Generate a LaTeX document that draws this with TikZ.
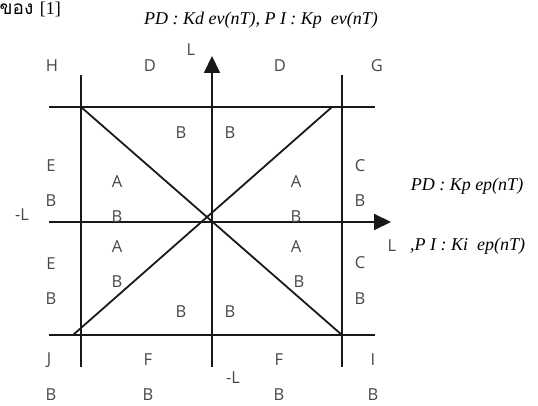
\documentclass[tikz,border=0pt]{standalone}
\usepackage{fontspec}
\setmainfont{Liberation Serif}
\newfontfamily\labfont{Open Sans}
\newfontfamily\thaifont[Script=Thai]{Loma}
\usetikzlibrary{arrows.meta}
\tikzset{
  lab/.style={font=\labfont\fontsize{16.5}{18}\selectfont, text=black!72, inner sep=0pt},
  formula/.style={font=\itshape\fontsize{18}{20}\selectfont, inner sep=0pt},
  frameline/.style={line width=2.7pt, black!90},
  thinframe/.style={line width=1.9pt, black!90},
  axisline/.style={line width=2pt, black!90, -{Triangle[length=17pt,width=16pt]}},
  diag/.style={line width=1.8pt, black!90},
}
\begin{document}
\begin{tikzpicture}[x=1pt,y=-1pt]
\useasboundingbox (0,0) rectangle (538,406);
\clip (0,0) rectangle (538,406);
% coordinates
\coordinate (vtop) at (212,56);
\coordinate (vbot) at (212,367);
\coordinate (hleft) at (49,222);
\coordinate (hright) at (391,222);
\coordinate (tl) at (49,107);
\coordinate (tr) at (375,107);
\coordinate (bl) at (49,335);
\coordinate (br) at (375,335);
\coordinate (lt) at (81,75);
\coordinate (lb) at (81,367);
\coordinate (rt) at (342,75);
\coordinate (rb) at (342,367);
\coordinate (d1a) at (81,107);
\coordinate (d1b) at (342,335);
\coordinate (d2a) at (332,107);
\coordinate (d2b) at (73,335);
% lines
\draw[frameline] (tl) -- (tr);
\draw[thinframe] (bl) -- (br);
\draw[frameline] (lt) -- (lb);
\draw[thinframe] (rt) -- (rb);
\draw[diag] (d1a) -- (d1b);
\draw[diag] (d2a) -- (d2b);
\draw[axisline] (vbot) -- (vtop);
\draw[axisline] (hleft) -- (hright);
% Thai caption (cut at left edge)
\node[anchor=east, inner sep=0pt] (cap) at (61,9) {\thaifont\fontsize{19}{21}\selectfont ของ\ \fontsize{18}{20}\selectfont\rmfamily [1]};
% formulas
\node[formula] (ftop) at (261,20) {PD : Kd ev(nT), P I : Kp\ \ ev(nT)};
\node[formula] (fright) at (467,186) {PD : Kp ep(nT)};
\node[formula, anchor=west] (fright2) at (410,246) {,P I : Ki\ \ ep(nT)};
% labels
\node[lab] (H) at (52,66) {H};
\node[lab] (D1) at (150,66) {D};
\node[lab] (Ltop) at (191,50) {L};
\node[lab] (D2) at (280,66) {D};
\node[lab] (G) at (377,66) {G};
\node[lab] (B1) at (181,133) {B};
\node[lab] (B2) at (230,133) {B};
\node[lab] (E1) at (51,166) {E};
\node[lab] (A1) at (117,182) {A};
\node[lab] (B3) at (51,201) {B};
\node[lab] (mL) at (22,215) {-L};
\node[lab] (B4) at (117,217) {B};
\node[lab] (A2) at (296,182) {A};
\node[lab] (C1) at (360,166) {C};
\node[lab] (B5) at (360,201) {B};
\node[lab] (B6) at (296,217) {B};
\node[lab] (Lr) at (392,246) {L};
\node[lab] (A3) at (117,247) {A};
\node[lab] (E2) at (51,264) {E};
\node[lab] (B7) at (117,282) {B};
\node[lab] (B8) at (51,299) {B};
\node[lab] (A4) at (296,247) {A};
\node[lab] (C2) at (360,263) {C};
\node[lab] (B9) at (299,282) {B};
\node[lab] (B10) at (360,299) {B};
\node[lab] (B11) at (181,312) {B};
\node[lab] (B12) at (230,312) {B};
\node[lab] (J) at (49,360) {J};
\node[lab] (F1) at (148,360) {F};
\node[lab] (mLb) at (233,378) {-L};
\node[lab] (F2) at (279,360) {F};
\node[lab] (I) at (373,360) {I};
\node[lab] (B13) at (51,395) {B};
\node[lab] (B14) at (148,395) {B};
\node[lab] (B15) at (279,395) {B};
\node[lab] (B16) at (373,395) {B};
\end{tikzpicture}
\end{document}
